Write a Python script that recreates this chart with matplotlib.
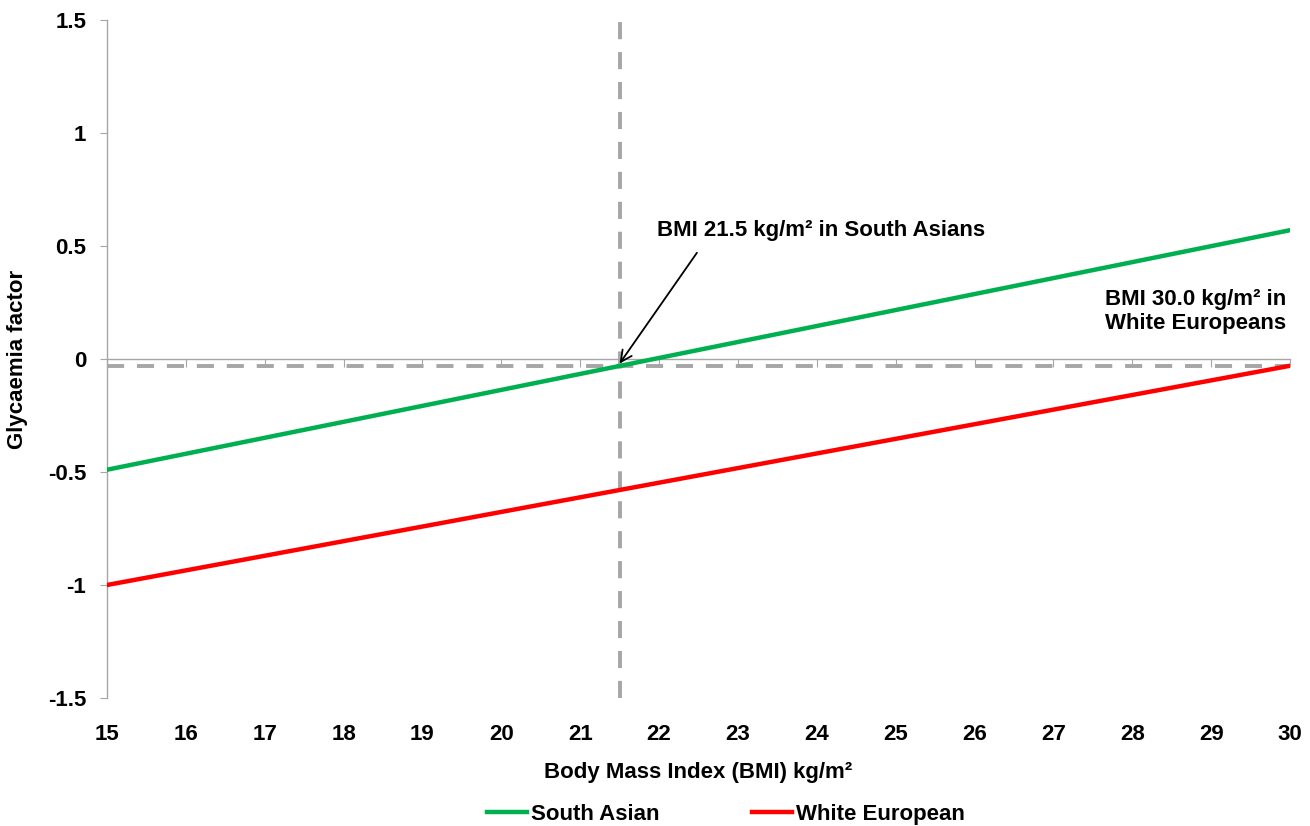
import matplotlib
matplotlib.use("Agg")
import matplotlib.pyplot as plt
import numpy as np

plt.rcParams['font.family'] = ['Liberation Sans', 'DejaVu Sans']
plt.rcParams['font.weight'] = 'bold'

# data
bmi = [15, 30]
south_asian = [-0.49, 0.57]
white_european = [-1.0, -0.03]
cutoff_bmi = 21.5
cutoff_glyc = -0.03
x_ticks = list(range(15, 31))
y_ticks = [-1.5, -1, -0.5, 0, 0.5, 1, 1.5]
y_tick_labels = ['-1.5', '-1', '-0.5', '0', '0.5', '1', '1.5']

grey = '#a6a6a6'
green = '#00b050'
red = '#ff0000'
fs = 16

fig = plt.figure(figsize=(13.1, 8.26), dpi=100)
ax = fig.add_axes([107 / 1310, 128 / 826, 1183 / 1310, 678 / 826])

ax.plot(bmi, south_asian, color=green, lw=3.2, label='South Asian', zorder=3)
ax.plot(bmi, white_european, color=red, lw=3.2, label='White European', zorder=3)

# cut-off guide lines
ax.axvline(cutoff_bmi, color=grey, lw=2.8, ls=(0, (4.4, 3.3)), zorder=2, clip_on=False)
ax.axhline(cutoff_glyc, color=grey, lw=2.8, ls=(0, (4.4, 3.3)), zorder=2)

ax.set_xlim(15, 30)
ax.set_ylim(-1.5, 1.5)

for s in ['top', 'right', 'bottom']:
    ax.spines[s].set_visible(False)
ax.spines['left'].set_color(grey)
ax.spines['left'].set_linewidth(1)

ax.set_yticks(y_ticks)
ax.set_yticklabels(y_tick_labels)
ax.tick_params(axis='y', direction='out', length=5, color=grey, labelsize=fs, pad=10)
ax.set_xticks(x_ticks)
ax.tick_params(axis='x', length=0, labelsize=fs, pad=19)

# horizontal axis drawn through y = 0, ticks hanging below it
# (secondary axis ticks sit on its top side, so 'in' points down)
sec = ax.secondary_xaxis(0.5)
sec.set_xticks(x_ticks)
sec.tick_params(axis='x', direction='in', length=6, color=grey, labelbottom=False, labeltop=False)
for sp in sec.spines.values():
    sp.set_color(grey)
    sp.set_linewidth(1)

fig.text(18 / 1310, 1 - 359 / 826, 'Glycaemia factor', rotation=90, fontsize=fs,
         fontweight='bold', ha='center', va='center')
ax.set_xlabel('Body Mass Index (BMI) kg/m²', fontsize=fs, fontweight='bold', labelpad=12)

ax.text(21.98, 0.52, 'BMI 21.5 kg/m² in South Asians', fontsize=fs, fontweight='bold',
        ha='left', va='bottom')
ax.annotate('', xy=(cutoff_bmi, cutoff_glyc + 0.01), xytext=(22.48, 0.47),
            arrowprops=dict(arrowstyle='->', color='black', lw=1.3,
                            shrinkA=0, shrinkB=0, mutation_scale=20))
ax.text(29.95, 0.21, 'BMI 30.0 kg/m² in\nWhite Europeans', fontsize=fs, fontweight='bold',
        ha='right', va='center', linespacing=1.2)

fig.legend(loc='lower center', bbox_to_anchor=(726 / 1310, -0.023), ncol=2, frameon=False,
           handlelength=1.8, handletextpad=0.15, columnspacing=4.2,
           prop={'weight': 'bold', 'size': fs})

fig.savefig('out.png', dpi=100)
